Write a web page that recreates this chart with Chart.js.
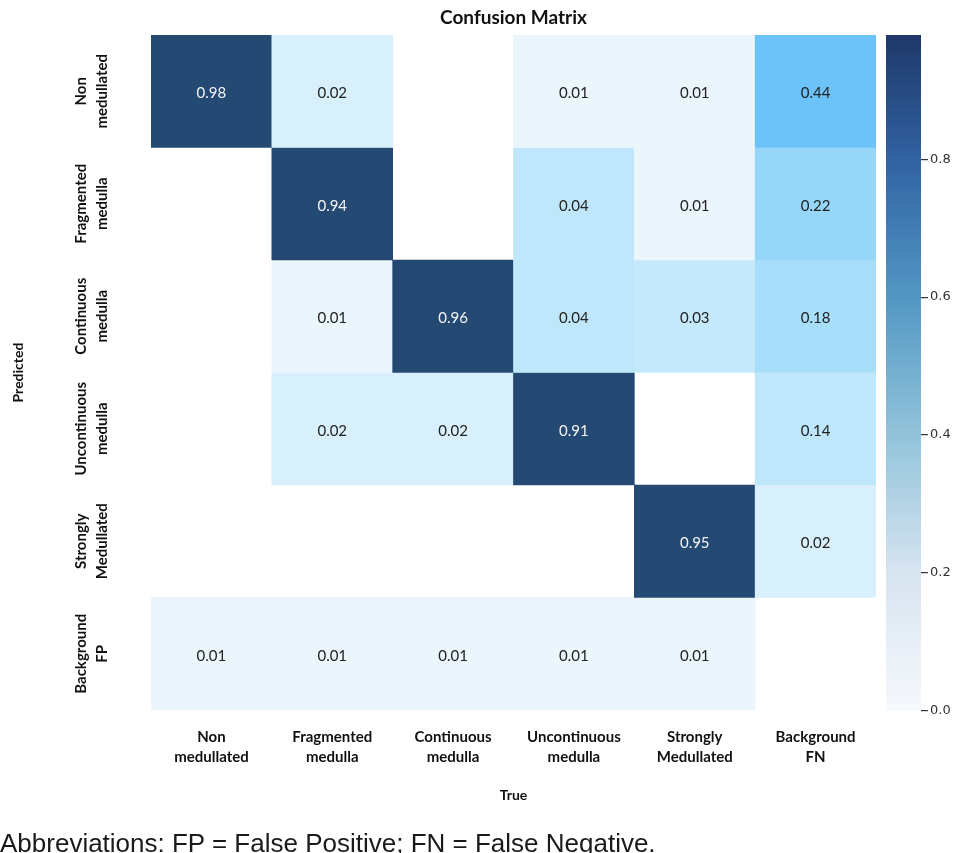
<!DOCTYPE html>
<html>
<head>
<meta charset="utf-8">
<script src="https://cdn.jsdelivr.net/npm/chart.js@4.4.1/dist/chart.umd.min.js"></script>
<style>
  html, body { margin: 0; padding: 0; background: #fff; }
  #wrap { position: relative; width: 955px; height: 853px; overflow: hidden; }
  #matrix { position: absolute; left: 0; top: 0; }
  #scalebar { position: absolute; left: 880px; top: 0; }
  #note {
    position: absolute; left: 0; top: 830px;
    font-family: "Liberation Sans", Arial, sans-serif;
    font-size: 26px; line-height: 26px; color: #1a1a1a; white-space: nowrap;
  }
</style>
</head>
<body>
<div id="wrap">
  <canvas id="matrix" width="880" height="853"></canvas>
  <canvas id="scalebar" width="75" height="853"></canvas>
  <div id="note">Abbreviations: FP = False Positive; FN = False Negative.</div>
</div>
<script>
// Column categories (true class) and row categories (predicted class)
const trueLabels = [
  ['Non', 'medullated'], ['Fragmented', 'medulla'], ['Continuous', 'medulla'],
  ['Uncontinuous', 'medulla'], ['Strongly', 'Medullated'], ['Background', 'FN']
];
const predictedLabels = [
  ['Non', 'medullated'], ['Fragmented', 'medulla'], ['Continuous', 'medulla'],
  ['Uncontinuous', 'medulla'], ['Strongly', 'Medullated'], ['Background', 'FP']
];

// One row per predicted class, values in true-class order (0 = empty cell)
const rowNonMedullated   = [0.98, 0.02, 0,    0.01, 0.01, 0.44];
const rowFragmented      = [0,    0.94, 0,    0.04, 0.01, 0.22];
const rowContinuous      = [0,    0.01, 0.96, 0.04, 0.03, 0.18];
const rowUncontinuous    = [0,    0.02, 0.02, 0.91, 0,    0.14];
const rowStrongly        = [0,    0,    0,    0,    0.95, 0.02];
const rowBackgroundFP    = [0.01, 0.01, 0.01, 0.01, 0.01, 0];

const colorbarTicks = [0, 0.2, 0.4, 0.6, 0.8];

const matrixRows = [rowNonMedullated, rowFragmented, rowContinuous,
                    rowUncontinuous, rowStrongly, rowBackgroundFP];
const colorbarMax = Math.max(...matrixRows.flat());

// Cell fill palette
const cellStops = [
  [0.01, [234, 245, 252]], [0.02, [216, 240, 252]], [0.03, [196, 233, 251]],
  [0.04, [191, 231, 251]], [0.14, [190, 231, 251]], [0.18, [167, 222, 250]],
  [0.22, [150, 215, 249]], [0.44, [108, 195, 249]], [0.60, [36, 74, 115]],
  [1.00, [36, 74, 115]]
];
function cellColor(v) {
  if (!(v > 0)) return 'rgba(0,0,0,0)';
  if (v <= cellStops[0][0]) return 'rgb(' + cellStops[0][1].join(',') + ')';
  for (let i = 1; i < cellStops.length; i++) {
    const [v1, c1] = cellStops[i];
    const [v0, c0] = cellStops[i - 1];
    if (v <= v1) {
      const t = (v - v0) / (v1 - v0);
      const c = c0.map((x, k) => Math.round(x + (c1[k] - x) * t));
      return 'rgb(' + c.join(',') + ')';
    }
  }
  return 'rgb(' + cellStops[cellStops.length - 1][1].join(',') + ')';
}

const LABEL_FONT = 'Lato, "Open Sans", sans-serif';

// Writes the value in the middle of every filled cell
const cellValuePlugin = {
  id: 'cellValues',
  afterDatasetsDraw(chart) {
    const ctx = chart.ctx;
    ctx.save();
    ctx.font = '15px ' + LABEL_FONT;
    ctx.textAlign = 'center';
    ctx.textBaseline = 'middle';
    chart.data.datasets.forEach((ds, r) => {
      const meta = chart.getDatasetMeta(r);
      meta.data.forEach((el, c) => {
        const v = ds.cellValues[c];
        if (!(v > 0)) return;
        const p = el.getProps(['x', 'y', 'base'], true);
        ctx.fillStyle = v > 0.5 ? '#f4f4f4' : '#222';
        ctx.fillText(v.toFixed(2), p.x, (p.y + p.base) / 2 + 2);
      });
    });
    ctx.restore();
  }
};

// Rotated row labels placed at the category axis tick positions
const rowLabelPlugin = {
  id: 'rowLabels',
  afterDraw(chart) {
    const s = chart.scales.yRows;
    const ctx = chart.ctx;
    ctx.save();
    ctx.font = 'bold 15px ' + LABEL_FONT;
    ctx.fillStyle = '#111';
    ctx.textAlign = 'center';
    ctx.textBaseline = 'middle';
    s.ticks.forEach((t, i) => {
      const lines = predictedLabels[i];
      const yc = s.getPixelForTick(i);
      ctx.save();
      ctx.translate(91.5, yc);
      ctx.rotate(-Math.PI / 2);
      lines.forEach((ln, k) => ctx.fillText(ln, 0, (k - (lines.length - 1) / 2) * 21));
      ctx.restore();
    });
    ctx.restore();
  }
};

new Chart(document.getElementById('matrix'), {
  type: 'bar',
  data: {
    labels: trueLabels,
    datasets: matrixRows.map((row, r) => ({
      label: predictedLabels[r].join(' '),
      data: row.map(v => (v > 0 ? [r, r + 1] : null)),
      cellValues: row,
      backgroundColor: row.map(cellColor),
      borderWidth: 0,
      grouped: false,
      barPercentage: 1,
      categoryPercentage: 1,
      yAxisID: 'y'
    }))
  },
  options: {
    responsive: false,
    animation: false,
    layout: { padding: { left: 0, right: 4, top: 0, bottom: 0 } },
    plugins: {
      legend: { display: false },
      tooltip: { enabled: false },
      title: {
        display: true,
        text: 'Confusion Matrix',
        fullSize: false,
        color: '#111',
        font: { family: LABEL_FONT, size: 19, weight: 'bold', lineHeight: 1.2 },
        padding: { top: 6, bottom: 6.2 }
      }
    },
    scales: {
      x: {
        type: 'category',
        position: 'bottom',
        grid: { display: false, drawTicks: false },
        border: { display: false },
        ticks: {
          color: '#111',
          font: { family: LABEL_FONT, size: 15, weight: 'bold', lineHeight: 1.34 },
          padding: 17,
          maxRotation: 0,
          autoSkip: false
        },
        title: {
          display: true,
          text: 'True',
          color: '#111',
          font: { family: LABEL_FONT, size: 14, weight: 'bold' },
          padding: { top: 0, bottom: 49 }
        },
        afterFit(s) { s.height = 143; }
      },
      y: {
        type: 'linear',
        display: false,
        min: 0,
        max: 6,
        reverse: true
      },
      yRows: {
        type: 'category',
        labels: predictedLabels,
        position: 'left',
        offset: true,
        grid: { display: false, drawTicks: false },
        border: { display: false },
        ticks: { display: false },
        title: {
          display: true,
          text: 'Predicted',
          color: '#111',
          font: { family: LABEL_FONT, size: 14, weight: 'bold' },
          padding: { top: 10, bottom: 0 }
        },
        afterFit(s) { s.width = 151; }
      }
    }
  },
  plugins: [cellValuePlugin, rowLabelPlugin]
});

// Colour scale bar
const barStops = [
  [0.00, '#f6f9fd'], [0.20, '#d7e4f0'], [0.40, '#92c3da'],
  [0.60, '#5297c4'], [0.80, '#3162a2'], [0.98, '#1e3869']
];
new Chart(document.getElementById('scalebar'), {
  type: 'bar',
  data: {
    labels: [''],
    datasets: [{
      data: [[0, colorbarMax]],
      borderWidth: 0,
      barPercentage: 1,
      categoryPercentage: 1,
      backgroundColor(c) {
        const a = c.chart.chartArea;
        if (!a) return '#ccc';
        const g = c.chart.ctx.createLinearGradient(0, a.bottom, 0, a.top);
        barStops.forEach(([v, col]) => g.addColorStop(Math.min(1, v / colorbarMax), col));
        return g;
      }
    }]
  },
  options: {
    responsive: false,
    animation: false,
    layout: { padding: { left: 6, right: 0, top: 35, bottom: 142 } },
    plugins: { legend: { display: false }, tooltip: { enabled: false } },
    scales: {
      x: { display: false },
      y: {
        position: 'right',
        min: 0,
        max: colorbarMax,
        afterBuildTicks(s) { s.ticks = colorbarTicks.map(v => ({ value: v })); },
        ticks: {
          callback: v => Number(v).toFixed(1),
          color: '#333',
          font: { family: '"DejaVu Sans", sans-serif', size: 13 },
          padding: 2
        },
        grid: { drawOnChartArea: false, drawTicks: true, tickLength: 7, color: '#333', lineWidth: 1.2 },
        border: { display: false },
        afterFit(s) { s.width = 34; }
      }
    }
  }
});
</script>
</body>
</html>
